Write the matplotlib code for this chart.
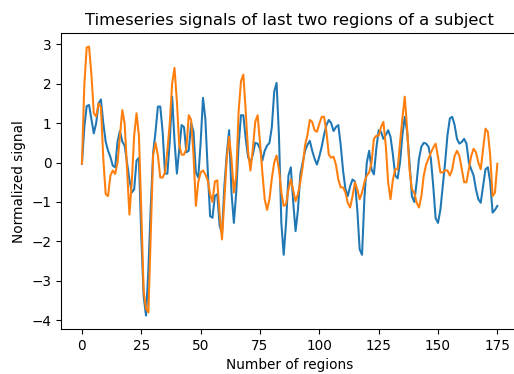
import matplotlib
matplotlib.use("Agg")
import matplotlib.pyplot as plt

# signals of the last two regions
region_a = [-0.03, 0.9, 1.43, 1.46, 1.1, 0.74, 1.0, 1.5, 1.6, 1.0,
            0.53, 0.3, 0.14, -0.08, -0.12, 0.53, 0.8, 0.53, 0.43, 0.0,
            -0.43, -0.76, -0.68, 0.05, 0.12, -1.87, -3.4, -3.88, -2.7, -1.1,
            0.25, 0.78, 1.42, 1.42, 0.78, -0.28, -0.28, 0.55, 1.67, 0.55,
            -0.28, 0.35, 0.95, 0.9, 0.26, 0.3, 1.0, 0.78, -0.25, -0.38,
            0.5, 1.64, 1.1, -0.2, -1.36, -1.4, -0.85, -0.8, -1.6, -1.8,
            -0.6, 0.2, 0.82, -0.76, -1.53, -0.76, 0.43, 1.2, 1.2, 0.6,
            0.14, 0.0, 0.2, 0.5, 0.48, 0.35, 0.05, 0.3, 0.43, 0.5,
            0.9, 1.8, 2.02, 0.68, -1.53, -2.34, -1.53, -0.33, -0.12, -1.0,
            -1.74, -1.2, -0.3, 0.0, 0.3, 0.45, 0.55, 0.3, 0.1, -0.05,
            0.15, 0.4, 0.7, 0.95, 1.08, 1.0, 0.8, 0.9, 0.95, 0.45,
            -0.2, -0.67, -0.85, -0.6, -0.43, -0.48, -1.2, -2.2, -2.34, -0.9,
            0.0, 0.3, -0.17, -0.3, 0.35, 0.82, 0.78, 0.6, 0.7, 0.82,
            0.65, 0.2, -0.33, -0.4, 0.0, 0.7, 1.16, 0.78, 0.0, -0.85,
            -1.0, -0.5, 0.1, 0.4, 0.5, 0.48, 0.4, 0.1, -0.6, -1.41,
            -1.53, -1.2, -0.6, 0.0, 0.7, 1.12, 1.16, 0.95, 0.6, 0.48,
            0.52, 0.6, 0.48, 0.0, -0.17, -0.33, -0.68, -0.93, -1.02, -0.6,
            -0.17, -0.12, -0.5, -1.27, -1.2, -1.1]

region_b = [-0.03, 1.97, 2.92, 2.94, 2.23, 1.25, 1.17, 1.5, 1.4, 0.1,
            -0.8, -0.85, -0.33, -0.2, -0.29, 0.0, 0.68, 1.33, 0.99, -0.17,
            -1.32, -0.5, 0.68, 1.25, 0.68, -1.2, -3.25, -3.7, -3.8, -1.8,
            0.2, 0.5, 0.18, -0.38, -0.38, -0.25, 0.3, 1.0, 2.0, 2.4,
            1.55, 0.44, 0.2, 0.2, 0.35, 1.2, 1.08, 0.2, -1.1, -0.5,
            -0.25, -0.2, -0.3, -0.45, -0.8, -1.0, -0.48, -0.45, -1.3, -1.95,
            -0.95, 0.1, 0.65, 0.1, -0.76, -0.33, 1.3, 2.06, 2.23, 1.3,
            0.27, -0.2, 0.35, 1.03, 1.2, 0.52, -0.25, -0.93, -1.2, -0.93,
            -0.4, 0.0, 0.18, -0.17, -0.76, -1.1, -1.05, -0.68, -0.43, -0.7,
            -0.98, -0.8, -0.5, -0.1, 0.44, 0.7, 1.08, 1.03, 0.82, 0.78,
            0.98, 1.16, 1.16, 0.78, 0.2, 0.12, 0.15, -0.05, -0.43, -0.63,
            -0.63, -0.76, -1.02, -1.14, -0.85, -0.5, -0.68, -0.93, -0.76, -0.5,
            -0.33, -0.25, 0.0, 0.6, 0.68, 0.68, 0.9, 1.03, 0.43, -0.5,
            -0.93, -0.43, -0.17, -0.17, 0.5, 1.12, 1.67, 0.85, -0.17, -0.68,
            -0.76, -1.02, -1.14, -0.85, -0.33, -0.05, 0.1, 0.25, 0.38, 0.48,
            0.14, -0.25, -0.25, -0.2, -0.2, -0.33, -0.17, 0.17, 0.3, 0.17,
            -0.17, -0.5, -0.5, -0.17, 0.17, 0.35, 0.26, 0.0, -0.17, 0.35,
            0.86, 0.78, 0.17, -0.85, -0.76, -0.03]

dpi = 98
fig = plt.figure(figsize=(514 / dpi, 374 / dpi), dpi=dpi)
ax = fig.add_axes([0.119, 0.1203, 0.889, 0.791])

ax.plot(region_a)
ax.plot(region_b)

ax.set_title("Timeseries signals of last two regions of a subject")
ax.set_xlabel("Number of regions")
ax.set_ylabel("Normalized signal")

fig.savefig("out.png", dpi=dpi)
